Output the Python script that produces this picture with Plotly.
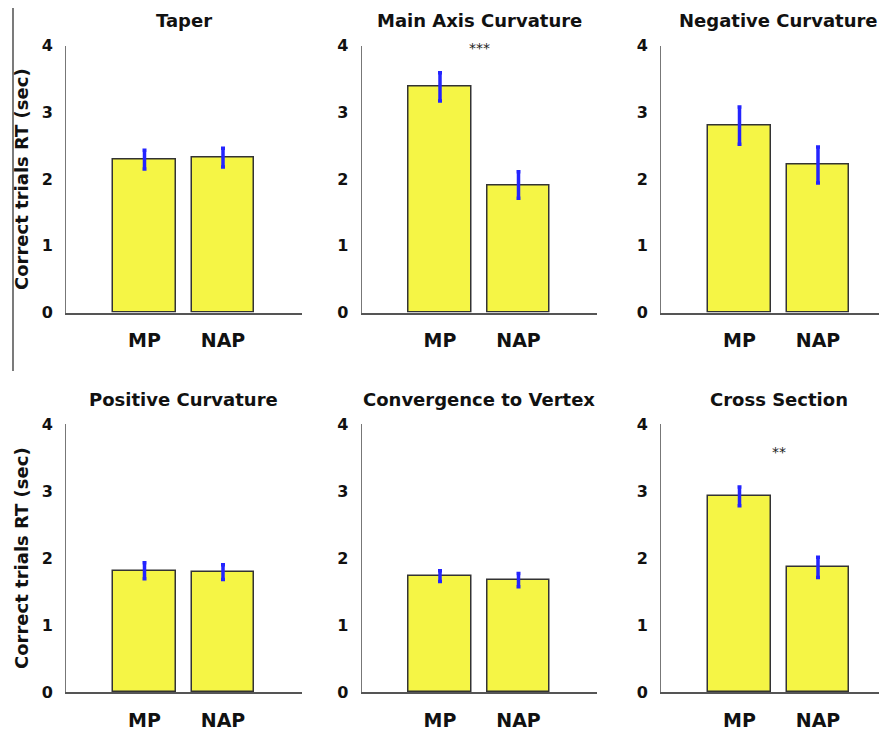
import plotly.graph_objects as go

# ---- data ----
categories = ["MP", "NAP"]
panel_titles = ["Taper", "Main Axis Curvature", "Negative Curvature",
                "Positive Curvature", "Convergence to Vertex", "Cross Section"]
mp_means = [2.29, 3.38, 2.80, 1.81, 1.73, 2.92]
nap_means = [2.32, 1.91, 2.21, 1.79, 1.67, 1.86]
mp_err = [0.14, 0.21, 0.28, 0.12, 0.08, 0.14]
nap_err = [0.14, 0.20, 0.27, 0.11, 0.10, 0.15]
sig_labels = ["", "***", "", "", "", "**"]
sig_y = [None, 3.97, None, None, None, 3.58]
y_ticks = [0, 1, 2, 3, 4]
y_title = "Correct trials RT (sec)"

# page is 887x735, html body has an 8px margin -> figure drawn at (8, 8)
PAGE_W, PAGE_H = 887, 735
OFF = 8
W, H = PAGE_W - OFF, PAGE_H - OFF
FONT = "DejaVu Sans, Verdana, sans-serif"


def px_x(p):
    return (p - OFF) / W


def px_y(p):
    return 1 - (p - OFF) / H


# panel geometry (page pixels)
col_px = [(66, 301.5), (361.5, 597), (661, 887)]
row_px = [(45.5, 312.5), (424, 692)]  # (top, bottom)
unit_px = 78.5

fig = go.Figure()
annotations = []

for i in range(6):
    r, c = divmod(i, 3)
    n = i + 1
    xa = "x" if n == 1 else f"x{n}"
    ya = "y" if n == 1 else f"y{n}"
    x0, x1 = col_px[c]
    top, bot = row_px[r]
    xr = (x1 - x0) / unit_px

    fig.add_trace(go.Bar(
        x=[1, 2], y=[mp_means[i], nap_means[i]],
        width=0.8,
        marker=dict(color="#f5f545", line=dict(color="#333333", width=1.5)),
        error_y=dict(type="data", array=[mp_err[i], nap_err[i]], visible=True,
                     color="#2424ff", thickness=3.5, width=2),
        xaxis=xa, yaxis=ya, showlegend=False, hoverinfo="skip",
    ))

    xkey = "xaxis" if n == 1 else f"xaxis{n}"
    ykey = "yaxis" if n == 1 else f"yaxis{n}"
    fig.layout[xkey] = dict(
        domain=[px_x(x0), min(1.0, px_x(x1))], range=[0, xr], anchor=ya,
        automargin=False,
        tickvals=[1, 2], ticktext=categories, ticks="",
        showgrid=False, zeroline=False, showline=True,
        linecolor="#555555", linewidth=2,
        tickfont=dict(family=FONT, size=19, color="#111111", weight="bold"),
        ticklabelstandoff=10, fixedrange=True,
    )
    fig.layout[ykey] = dict(
        domain=[px_y(bot), px_y(top)], range=[0, 4], anchor=xa, automargin=False,
        tickvals=y_ticks, ticks="", showgrid=False, zeroline=False,
        showline=True, linecolor="#777777", linewidth=1,
        tickfont=dict(family=FONT, size=16, color="#111111", weight="bold"),
        ticklabelstandoff=9, fixedrange=True,
    )

    # panel title
    annotations.append(dict(
        text=f"<b>{panel_titles[i]}</b>", xref="paper", yref="paper",
        x=px_x(x0 + 1.5 * unit_px), y=px_y(top - 25),
        xanchor="center", yanchor="middle", showarrow=False,
        font=dict(family=FONT, size=18, color="#111111"),
    ))
    if sig_labels[i]:
        annotations.append(dict(
            text=sig_labels[i], xref=xa, yref=ya, x=1.5, y=sig_y[i],
            xanchor="center", yanchor="middle", showarrow=False,
            font=dict(family=FONT, size=14, color="#222222"),
        ))
    if c == 0:
        annotations.append(dict(
            text=f"<b>{y_title}</b>", xref="paper", yref="paper",
            x=px_x(21), y=px_y((top + bot) / 2), textangle=-90,
            xanchor="center", yanchor="middle", showarrow=False,
            font=dict(family=FONT, size=18, color="#111111"),
        ))

fig.update_layout(
    template="none",
    width=W, height=H, margin=dict(l=0, r=0, t=0, b=0, autoexpand=False),
    paper_bgcolor="white", plot_bgcolor="white",
    annotations=annotations, bargap=0,
    shapes=[dict(type="line", xref="paper", yref="paper",
                 x0=px_x(13), x1=px_x(13), y0=px_y(371), y1=1,
                 line=dict(color="#222222", width=1.2))],
)

fig.write_html("out.html", config={"displayModeBar": False})
